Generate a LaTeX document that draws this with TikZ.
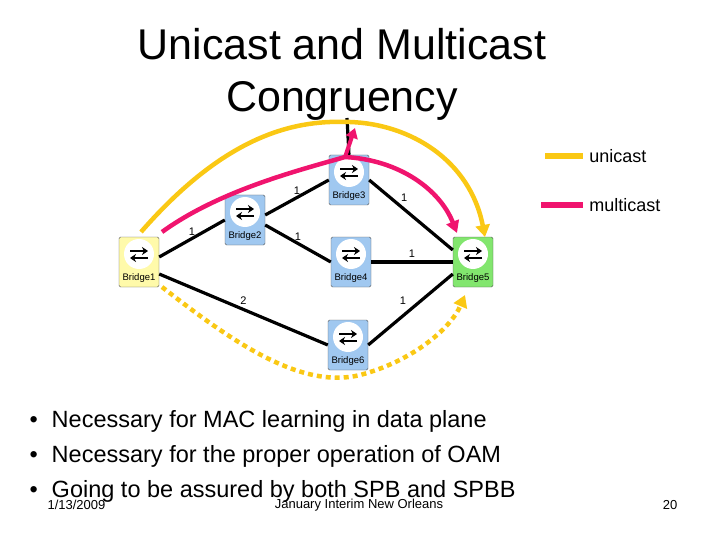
\documentclass[tikz,border=0pt]{standalone}
\usepackage{fontspec}
\setmainfont{Liberation Sans}
\usetikzlibrary{arrows.meta}
\definecolor{uni}{RGB}{250,200,20}
\definecolor{multi}{RGB}{240,20,110}
\definecolor{blu}{RGB}{160,200,240}
\definecolor{yel}{RGB}{255,250,170}
\definecolor{grn}{RGB}{130,230,110}
\tikzset{
  br/.style={draw=gray!70!black,fill=blu,rounded corners=1.5pt,minimum width=40pt,minimum height=50pt,inner sep=0pt},
  lnk/.style={line width=3.2pt,black},
  lab/.style={font=\fontsize{11}{12}\selectfont,inner sep=1pt},
  bl/.style={font=\fontsize{9.5}{10}\selectfont}
}
\newcommand{\bicon}[1]{%
  \fill[white] ([yshift=8pt]#1.center) circle (15pt);
  \draw[line width=2.4pt,-{Stealth[length=6pt,width=8pt]}] ([xshift=-9pt,yshift=11pt]#1.center) -- ([xshift=9pt,yshift=11pt]#1.center);
  \draw[line width=2.4pt,-{Stealth[length=6pt,width=8pt]}] ([xshift=9pt,yshift=4pt]#1.center) -- ([xshift=-9pt,yshift=4pt]#1.center);
  \node[bl] at ([yshift=-16pt]#1.center) {#1};}
\begin{document}
\begin{tikzpicture}[x=1pt,y=-1pt]
\useasboundingbox (0,0) rectangle (720,540);
\node[font=\fontsize{43}{52}\selectfont,align=center] (title) at (342,74) {Unicast and Multicast\\Congruency};
\coordinate (top) at (347,118);
\node[br,fill=yel] (Bridge1) at (139,262) {};
\node[br] (Bridge2) at (245,220) {};
\node[br] (Bridge3) at (349,180) {};
\node[br] (Bridge4) at (351,262) {};
\node[br,fill=grn] (Bridge5) at (473,262) {};
\node[br] (Bridge6) at (348,345) {};
\draw[lnk] (top) -- (Bridge3.north);
\draw[lnk] (Bridge1.east) ++(0,-5) -- (Bridge2.west) node[lab,midway,above] {1};
\draw[lnk] (Bridge2.east) ++(0,-5) -- (Bridge3.west) node[lab,midway,above] {1};
\draw[lnk] (Bridge2.east) ++(0,5) -- (Bridge4.west) node[lab,midway,above] {1};
\draw[lnk] (Bridge3.east) -- ([yshift=12pt]Bridge5.west) node[lab,pos=0.35,above right] {1};
\draw[lnk] (Bridge4.east) -- (Bridge5.west) node[lab,midway,above=2pt] {1};
\draw[lnk] (Bridge1.east) ++(0,12) -- (Bridge6.west) node[lab,midway,above=2pt] {2};
\draw[lnk] (Bridge6.east) -- ([yshift=-12pt]Bridge5.west) node[lab,midway,above left=2pt] {1};
\foreach \n in {Bridge1,Bridge2,Bridge3,Bridge4,Bridge5,Bridge6}{\bicon{\n}}
% paths
\coordinate (mb) at (345,157);
\draw[uni,line width=4.5pt,-{Triangle[length=12pt,width=14pt]}] (141,232) .. controls (230,130) and (300,120) .. (350,122) .. controls (410,124) and (470,160) .. (485,237);
\draw[multi,line width=4.5pt,-{Triangle[length=12pt,width=13pt]}] (162,232) .. controls (220,190) and (300,170) .. (mb) .. controls (400,160) and (440,190) .. (457,233);
\draw[multi,line width=4pt,-{Triangle[length=10pt,width=12pt]}] (mb) -- (355,128);
\draw[uni,line width=4.5pt,dash pattern=on 5pt off 4pt,-{Triangle[length=12pt,width=14pt]}] (162,287) .. controls (230,340) and (300,390) .. (360,375) .. controls (410,362) and (450,330) .. (465,295);
% legend
\draw[uni,line width=6pt] (545,156) -- (583,156) node[right,black,font=\fontsize{18}{20}\selectfont] {unicast};
\draw[multi,line width=6pt] (541,205) -- (583,205) node[right,black,font=\fontsize{18}{20}\selectfont] {multicast};
% bullets
\foreach \y/\t in {421/Necessary for MAC learning in data plane,456/Necessary for the proper operation of OAM,491/Going to be assured by both SPB and SPBB}{
  \node[anchor=west,font=\fontsize{23.5}{26}\selectfont] at (26,\y) {•\hspace{14pt}\t};}
\node[anchor=west,font=\fontsize{13}{14}\selectfont] (d) at (44,505) {1/13/2009};
\node[font=\fontsize{13}{14}\selectfont] (c) at (359,505) {January Interim New Orleans};
\node[font=\fontsize{13}{14}\selectfont] (p) at (670,505) {20};
\end{tikzpicture}
\end{document}
